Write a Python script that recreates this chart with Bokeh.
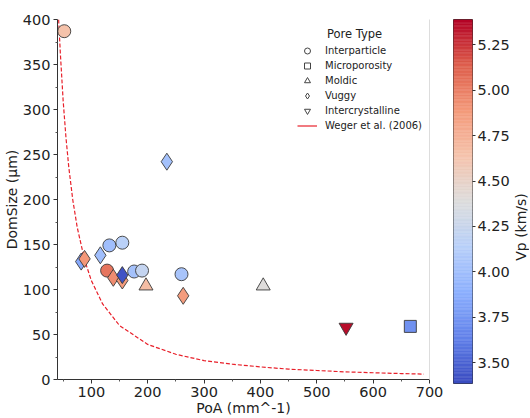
import numpy as np
from bokeh.plotting import figure
from bokeh.models import (ColumnDataSource, LinearColorMapper, FixedTicker, Legend,
                          LegendItem, LinearAxis, Range1d, NumeralTickFormatter, Label)
from bokeh.core.properties import value
from bokeh.layouts import row
from bokeh.embed import file_html
from bokeh.resources import INLINE
from bokeh.transform import transform

# ---------------- data ----------------
poa     = [52, 132, 155, 128, 176, 190, 260,   666,   197, 405,   82, 116, 88, 139, 155, 155, 263, 234,   552]
domsize = [387, 149, 152, 121, 120, 121, 117,  59,   104, 104,   131, 138, 134, 113, 110, 116, 93, 242,   58]
vp      = [4.65, 4.00, 4.15, 5.05, 4.02, 4.22, 4.05, 3.72, 4.68, 4.40, 3.85, 4.00, 4.90, 4.95, 4.88, 3.42, 4.88, 4.02, 5.36]
pore    = ["Interparticle"] * 7 + ["Microporosity"] + ["Moldic"] * 2 + ["Vuggy"] * 8 + ["Intercrystalline"]

weger_poa = [42, 45, 50, 55, 60, 67, 75, 88, 100, 120, 150, 200, 250, 300, 350, 400, 450, 500, 550, 600, 650, 690]
weger_dom = [400, 363, 310, 269, 236, 200, 169, 133, 110, 84, 60, 39, 28, 21, 17, 14, 11.5, 10, 8.5, 7.5, 6.6, 6]

pore_types = ["Interparticle", "Microporosity", "Moldic", "Vuggy", "Intercrystalline"]
x_ticks = [100, 200, 300, 400, 500, 600, 700]
x_minor = [50, 150, 250, 350, 450, 550, 650]
y_ticks = [0, 50, 100, 150, 200, 250, 300, 350, 400]
y_minor = [25, 75, 125, 175, 225, 275, 325, 375]
cb_ticks = [3.50, 3.75, 4.00, 4.25, 4.50, 4.75, 5.00, 5.25]
vp_low, vp_high = 3.385, 5.39

# ---------------- styles ----------------
markers = {"Interparticle": "circle", "Microporosity": "square", "Moldic": "triangle",
           "Vuggy": "diamond", "Intercrystalline": "inverted_triangle"}
sizes = {"Interparticle": 13, "Microporosity": 12, "Moldic": 14, "Vuggy": 17, "Intercrystalline": 14}
FONT = "DejaVu Sans"

# coolwarm-like palette
anchors = [(59, 76, 192), (98, 130, 234), (141, 176, 254), (184, 208, 249), (221, 221, 221),
           (245, 196, 173), (244, 154, 123), (222, 96, 77), (180, 4, 38)]
palette = []
n = 256
for i in range(n):
    t = i / (n - 1) * (len(anchors) - 1)
    k = min(int(t), len(anchors) - 2)
    f = t - k
    c = [round(anchors[k][j] + (anchors[k + 1][j] - anchors[k][j]) * f) for j in range(3)]
    palette.append("#%02x%02x%02x" % tuple(c))
mapper = LinearColorMapper(palette=palette, low=vp_low, high=vp_high)

# ---------------- main figure ----------------
p = figure(frame_width=372, frame_height=360, x_range=Range1d(40, 700), y_range=Range1d(0, 400),
           output_backend="svg", toolbar_location=None,
           min_border_left=53, min_border_top=19, min_border_right=24, min_border_bottom=30)
p.grid.visible = False
p.outline_line_color = None
p.background_fill_color = "white"

p.xaxis.ticker = FixedTicker(ticks=x_ticks, minor_ticks=x_minor)
p.yaxis.ticker = FixedTicker(ticks=y_ticks, minor_ticks=y_minor)
p.xaxis.axis_label = "PoA (mm^-1)"
p.yaxis.axis_label = "DomSize (μm)"
for ax in (p.xaxis, p.yaxis):
    ax.axis_line_color = "#333333"
    ax.major_tick_line_color = "#333333"
    ax.minor_tick_line_color = "#555555"
    ax.major_tick_out = 4
    ax.major_tick_in = 0
    ax.minor_tick_out = 2
    ax.minor_tick_in = 0
    ax.major_label_text_font = FONT
    ax.major_label_text_font_size = "14.5px"
    ax.major_label_text_color = "#222222"
    ax.axis_label_text_font = FONT
    ax.axis_label_text_font_size = "14px"
    ax.axis_label_text_font_style = "normal"
    ax.axis_label_text_color = "#222222"
    ax.major_label_standoff = 3
    ax.axis_label_standoff = 0

# light right spine
rax = LinearAxis(axis_line_color="#dddddd", major_tick_line_color=None, minor_tick_line_color=None,
                 major_label_text_font_size="0px", ticker=FixedTicker(ticks=[]))
p.add_layout(rax, "right")

# Weger curve
weger = p.line(weger_poa, weger_dom, line_color="#e8202a", line_dash="4 2", line_width=1.2)

# points by pore type
for pt in pore_types:
    idx = [i for i, v in enumerate(pore) if v == pt]
    src = ColumnDataSource(dict(x=[poa[i] for i in idx], y=[domsize[i] for i in idx],
                                vp=[vp[i] for i in idx]))
    p.scatter("x", "y", source=src, marker=markers[pt], size=sizes[pt],
              fill_color=transform("vp", mapper), line_color="#3a3a3a", line_width=0.9)

# legend with hollow markers (proxy renderers without visible data)
items = []
for pt in pore_types:
    r = p.scatter(x=[np.nan], y=[np.nan], marker=markers[pt], size=sizes[pt], fill_color="white",
                  line_color="#444444", line_width=1.0)
    items.append(LegendItem(label=pt, renderers=[r]))
wl = p.line(x=[np.nan, np.nan], y=[np.nan, np.nan], line_color="#e8202a", line_width=1.2)
items.append(LegendItem(label="Weger et al. (2006)", renderers=[wl]))
legend = Legend(items=items, location=(240, 246), border_line_color=None,
                background_fill_alpha=0.0, label_text_font=FONT, label_text_font_size="10px",
                label_text_color="#222222", glyph_height=15, glyph_width=20, label_height=15,
                spacing=0, padding=5, label_standoff=8, margin=0)
p.add_layout(legend)
p.add_layout(Label(x=297, y=346, x_units="screen", y_units="screen", text="Pore Type",
                   text_align="center", text_baseline="middle", text_font=FONT,
                   text_font_size="11.5px", text_color="#222222"))

# ---------------- colorbar figure ----------------
cb = figure(frame_width=19, frame_height=364, x_range=Range1d(0, 1), y_range=Range1d(vp_low, vp_high),
            output_backend="svg", toolbar_location=None, y_axis_location="right",
            x_axis_location=None, min_border_left=0, min_border_top=18, min_border_bottom=28,
            min_border_right=37)
cb.grid.visible = False
edges = np.linspace(vp_low, vp_high, len(palette) + 1)
cb.quad(left=0, right=1, bottom=edges[:-1], top=edges[1:], fill_color=palette, line_color=palette,
        line_width=0.5)
cb.outline_line_color = "#333333"
cb.yaxis.ticker = FixedTicker(ticks=cb_ticks)
cb.yaxis.formatter = NumeralTickFormatter(format="0.00")
cb.yaxis.axis_line_color = None
cb.yaxis.major_tick_line_color = "#333333"
cb.yaxis.major_tick_out = 3
cb.yaxis.major_tick_in = 0
cb.yaxis.minor_tick_line_color = None
cb.yaxis.major_label_text_font = FONT
cb.yaxis.major_label_text_font_size = "14.5px"
cb.yaxis.major_label_text_color = "#222222"
cb.yaxis.major_label_standoff = 2

# ---------------- colorbar label figure ----------------
lab = figure(frame_width=17, frame_height=364, x_range=Range1d(0, 1), y_range=Range1d(0, 1),
             output_backend="svg", toolbar_location=None, x_axis_location=None,
             y_axis_location=None, min_border_left=0, min_border_right=0, min_border_top=18,
             min_border_bottom=28)
lab.grid.visible = False
lab.outline_line_color = None
lab.text(x=[0.5], y=[0.43], text=["Vp (km/s)"], angle=np.pi / 2, text_align="center",
         text_baseline="middle", text_font=value(FONT), text_font_size="14px", text_color="#222222")

layout = row(p, cb, lab, spacing=0)
open("out.html", "w").write(file_html(layout, INLINE))
